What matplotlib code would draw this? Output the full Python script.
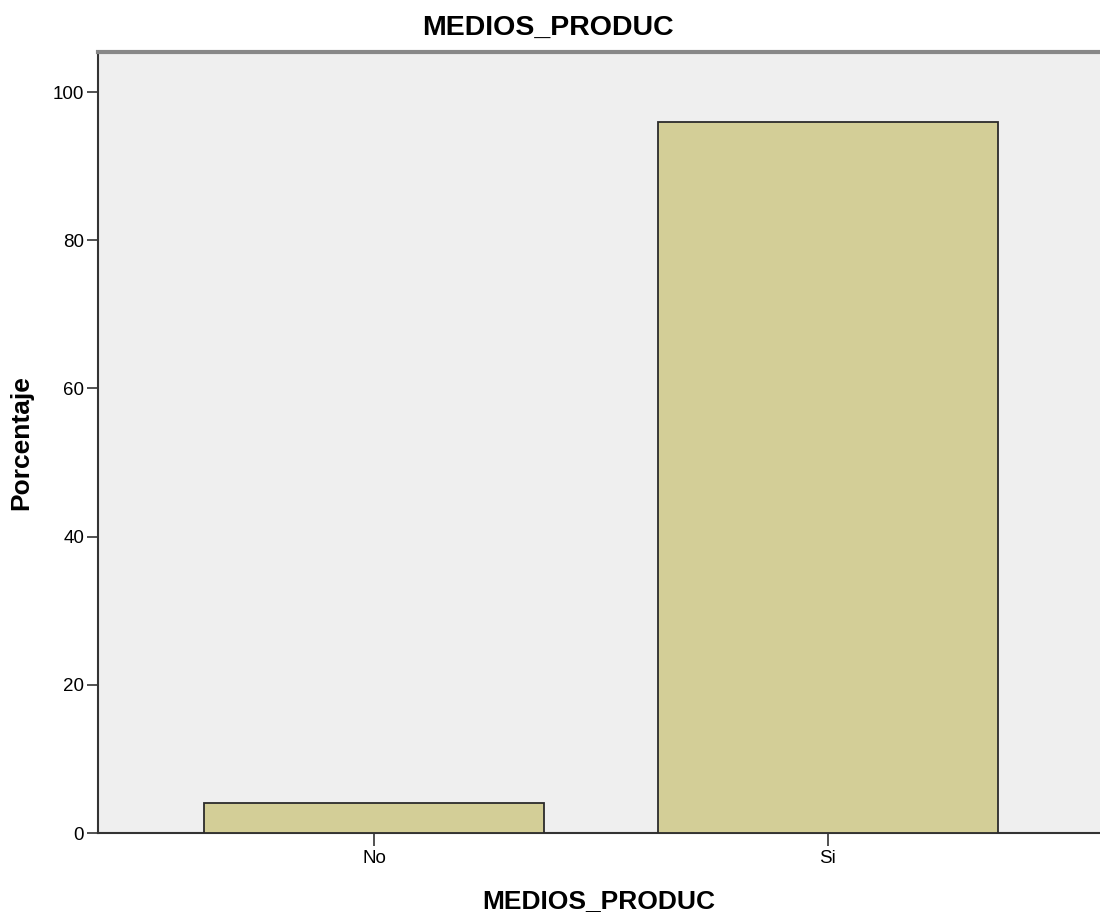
import matplotlib
matplotlib.use("Agg")
import matplotlib.pyplot as plt

# Data
categories = ["No", "Si"]
percentages = [4.0, 96.0]
y_ticks = [0, 20, 40, 60, 80, 100]

BAR_COLOR = "#D3CE97"
BG_COLOR = "#EFEFEF"
EDGE_COLOR = "#2B2B2B"

plt.rcParams["font.family"] = ["Liberation Sans", "DejaVu Sans"]

fig = plt.figure(figsize=(11, 9.21), dpi=100)
ax = fig.add_axes([98 / 1100, 88 / 921, 1 - 98 / 1100, 781 / 921])
ax.set_facecolor(BG_COLOR)

x = list(range(len(categories)))
ax.bar(x, percentages, width=0.75, color=BAR_COLOR, edgecolor=EDGE_COLOR,
       linewidth=1.3, zorder=3)

ax.set_xlim(-0.609, 1.600)
ax.set_ylim(0, 105.4)
ax.set_xticks(x)
ax.set_xticklabels(categories)
ax.set_yticks(y_ticks)

ax.tick_params(axis="y", length=8, width=1.2, color="#333333", labelsize=13.5, pad=2)
ax.tick_params(axis="x", length=9, width=1.2, color="#333333", labelsize=13.5, pad=3)

ax.spines["right"].set_visible(False)
ax.spines["left"].set_color("#333333")
ax.spines["left"].set_linewidth(1.5)
ax.spines["bottom"].set_color("#333333")
ax.spines["bottom"].set_linewidth(1.5)
ax.spines["top"].set_color("#888888")
ax.spines["top"].set_linewidth(3)

ax.set_xlabel("MEDIOS_PRODUC", fontsize=19, fontweight="bold", labelpad=16)
ax.set_ylabel("Porcentaje", fontsize=19, fontweight="bold", labelpad=14)

fig.text(0.498, 0.956, "MEDIOS_PRODUC", ha="center", va="bottom",
         fontsize=20.5, fontweight="bold")

fig.savefig("out.png", dpi=100, facecolor="white")
